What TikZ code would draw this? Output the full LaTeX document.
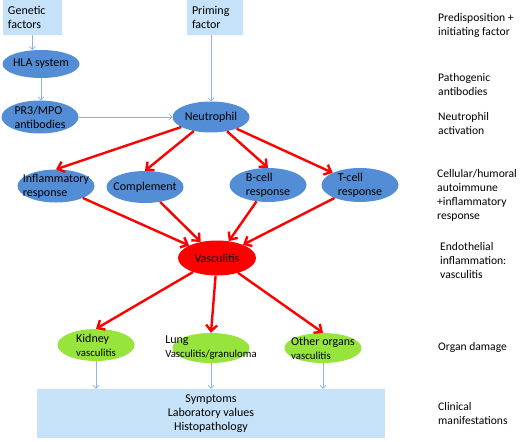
\documentclass[tikz,border=0pt]{standalone}
\usepackage{fontspec}
\setmainfont{Carlito}
\usetikzlibrary{shapes.geometric,arrows.meta}
\definecolor{ellblue}{RGB}{83,141,213}
\definecolor{boxblue}{RGB}{198,226,248}
\definecolor{thinblue}{RGB}{141,180,226}
\definecolor{organgreen}{RGB}{150,228,60}
\definecolor{vascred}{RGB}{255,0,0}
\newcommand{\sm}[1]{{\fontsize{10.8pt}{12.5pt}\selectfont #1}}
\begin{document}
\begin{tikzpicture}[x=1pt,y=-1pt,font=\fontsize{12pt}{14pt}\selectfont,
  cause/.style={rectangle,fill=boxblue,minimum height=35pt,align=left,inner xsep=5pt},
  ell/.style={ellipse,fill=ellblue,minimum width=77pt,minimum height=32pt,inner xsep=-22pt,inner ysep=-6pt,align=left},
  organ/.style={ell,fill=organgreen},
  thin/.style={draw=thinblue,line width=.6pt,-{Straight Barb[length=3pt,width=6pt]}},
  hit/.style={draw=vascred,line width=2.4pt,-{Straight Barb[length=6pt,width=11pt]}},
  side/.style={anchor=west,align=left,inner xsep=0pt,font=\fontsize{11.6pt}{14pt}\selectfont}]
\useasboundingbox (0,0) rectangle (521,441);
\node[cause,text width=49pt] (gen) at (32.5,17.5) {Genetic\\factors};
\node[cause,text width=46pt] (prim) at (215,17.5) {Priming\\factor};
\node[ell,minimum height=28pt] (hla) at (41,64) {HLA system};
\node[ell,minimum height=33pt] (pr3) at (40,117) {PR3/MPO\\antibodies};
\node[ell,minimum height=31pt] (neut) at (211,117) {Neutrophil};
\node[ell,minimum height=33pt] (infl) at (56,186) {Inflammatory\\response};
\node[ell,minimum height=32pt] (compl) at (145,187) {Complement};
\node[ell,minimum height=34pt] (bcell) at (268,185) {B-cell\\response};
\node[ell,minimum height=34pt] (tcell) at (360,185) {T-cell\\response};
\node[ell,fill=vascred,minimum width=78pt,minimum height=35pt] (vasc) at (217,258) {Vasculitis};
\node[organ] (kid) at (96,345) {Kidney\\\sm{vasculitis}};
\node[organ,minimum height=30pt] (lung) at (211,348) {Lung\\\sm{\mbox{Vasculitis/granuloma}}};
\node[organ,minimum height=30pt] (oth) at (323,348) {Other organs\\\sm{vasculitis}};
\node[rectangle,fill=boxblue,minimum width=348pt,minimum height=49pt,align=center] (box) at (211,413.5) {Symptoms\\Laboratory values\\Histopathology};
\node[side] (lpre) at (438,25.5) {Predisposition +\\initiating factor};
\node[side] (lpath) at (438,84.5) {Pathogenic\\antibodies};
\node[side] (lneut) at (438,124) {Neutrophil\\activation};
\node[side] (lcell) at (437,195) {Cellular/humoral\\autoimmune\\+inflammatory\\response};
\node[side] (lendo) at (440,261) {Endothelial\\inflammation:\\vasculitis};
\node[side] (lorg) at (438,347) {Organ damage};
\node[side] (lclin) at (438,413.5) {Clinical\\manifestations};
\draw[thin] (gen.south) -- (gen.south |- hla.north);
\draw[thin] (hla.south) -- (hla.south |- pr3.north);
\draw[thin] (pr3) -- (neut);
\draw[thin] (prim.south -| neut) -- (neut);
\foreach \o in {kid,lung,oth}
	\draw[thin] (\o.south) -- (\o.south |- box.north);
\draw[hit] (neut) -- (infl.north);
\draw[hit] (neut) -- (compl.north);
\draw[hit] (neut) -- (bcell.north);
\draw[hit] (neut) -- (tcell.north west);
\foreach \c in {infl,compl,bcell,tcell}
	\draw[hit] (\c) -- (vasc);
\foreach \o in {kid,lung,oth}
	\draw[hit] (vasc) -- (\o.north);
\end{tikzpicture}
\end{document}
